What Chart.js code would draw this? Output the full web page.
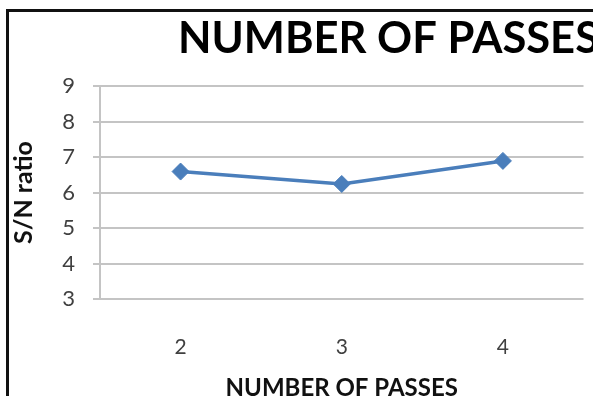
<!DOCTYPE html>
<html>
<head>
<meta charset="utf-8">
<script src="https://cdn.jsdelivr.net/npm/chart.js@4/dist/chart.umd.min.js"></script>
<style>
  html, body { margin: 0; padding: 0; background: #fff; overflow: hidden; }
  #frame { position: absolute; left: 6px; top: 9px; width: 700px; height: 500px; border: 3px solid #111; }
  #wrap { position: absolute; left: 0; top: 0; width: 593px; height: 396px; }
</style>
</head>
<body>
<div id="frame"></div>
<div id="wrap"><canvas id="grafico" width="593" height="396"></canvas></div>
<script>
const categorias = ['2', '3', '4'];
const valores = [6.59, 6.24, 6.89];
const tituloGrafico = 'NUMBER OF PASSES';
const tituloX = 'NUMBER OF PASSES';
const tituloY = 'S/N ratio';
const yMin = 3;
const yMax = 9;

// título grande, começa à esquerda e sai da janela como no original
const tituloPlugin = {
    id: 'tituloGrande',
    afterDraw(chart) {
        const c = chart.ctx;
        c.save();
        c.font = 'bold 43.5px Lato';
        c.fillStyle = '#000';
        c.textAlign = 'left';
        c.textBaseline = 'alphabetic';
        c.fillText(tituloGrafico, 178, 53);
        c.restore();
    }
};

const ctx = document.getElementById('grafico').getContext('2d');
new Chart(ctx, {
    type: 'line',
    data: {
        labels: categorias,
        datasets: [{
            data: valores,
            borderColor: '#4a7ebb',
            backgroundColor: '#4a7ebb',
            borderWidth: 3.5,
            pointStyle: 'rectRot',
            pointRadius: 8.5,
            pointBorderWidth: 1,
            tension: 0
        }]
    },
    options: {
        responsive: false,
        animation: false,
        layout: { padding: { left: 0, right: 9, top: 86, bottom: 0 } },
        plugins: {
            legend: { display: false },
            tooltip: { enabled: false }
        },
        scales: {
            x: {
                offset: true,
                grid: { display: false, drawTicks: false },
                border: { display: false },
                ticks: { color: '#404040', font: { family: 'Lato', size: 21 }, padding: 36 },
                title: {
                    display: true, text: tituloX, color: '#111',
                    font: { family: 'Lato', size: 24, weight: 'bold' },
                    padding: { top: 4, bottom: -7 }
                },
                afterFit(scale) { scale.height = 97; }
            },
            y: {
                min: yMin,
                max: yMax,
                grid: { color: '#c4c4c4', lineWidth: 2, tickLength: 7 },
                border: { display: true, color: '#c4c4c4', width: 2 },
                ticks: { stepSize: 1, color: '#404040', font: { family: 'Lato', size: 22 }, padding: 18 },
                title: {
                    display: true, text: tituloY, color: '#111',
                    font: { family: 'Lato', size: 25, weight: 'bold' },
                    padding: { top: 9, bottom: 0 }
                },
                afterFit(scale) { scale.width = 100; }
            }
        }
    },
    plugins: [tituloPlugin]
});
</script>
</body>
</html>
